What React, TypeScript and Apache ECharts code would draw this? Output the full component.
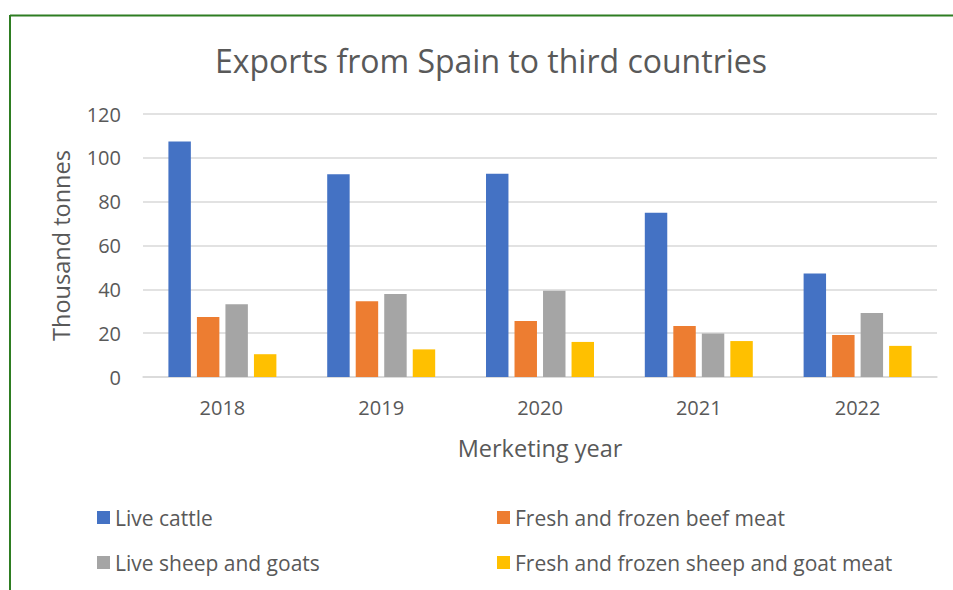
import React, { useEffect, useRef } from "react";
import * as echarts from "echarts";

const years = ["2018", "2019", "2020", "2021", "2022"];
const liveCattle = [107.4, 92.5, 92.7, 74.9, 47.2];
const beefMeat = [27.4, 34.6, 25.6, 23.3, 19.2];
const liveSheepGoats = [33.2, 37.9, 39.3, 19.8, 29.2];
const sheepGoatMeat = [10.4, 12.6, 16.0, 16.4, 14.2];
const seriesNames = [
  "Live cattle",
  "Fresh and frozen beef meat",
  "Live sheep and goats",
  "Fresh and frozen sheep and goat meat",
];
const colors = ["#4472C4", "#ED7D31", "#A5A5A5", "#FFC000"];

export default function App() {
  const ref = useRef<HTMLDivElement>(null);
  useEffect(() => {
    if (!ref.current) return;
    const chart = echarts.init(ref.current, null, { renderer: "svg" });
    const font = "'Open Sans', Lato, sans-serif";
    const textColor = "#595959";
    const data = [liveCattle, beefMeat, liveSheepGoats, sheepGoatMeat];
    const legendBase = {
      orient: "vertical",
      top: 502,
      itemWidth: 13,
      itemHeight: 13,
      itemGap: 24,
      icon: "rect",
      textStyle: { fontFamily: font, fontSize: 21, color: textColor },
    };
    chart.setOption({
      animation: false,
      textStyle: { fontFamily: font },
      title: {
        text: "Exports from Spain to third countries",
        left: 486,
        textAlign: "center",
        top: 39,
        textStyle: { fontFamily: font, fontSize: 32, fontWeight: "normal", color: textColor },
      },
      legend: [
        { ...legendBase, data: [seriesNames[0], seriesNames[2]], left: 92 },
        { ...legendBase, data: [seriesNames[1], seriesNames[3]], left: 492 },
      ],
      grid: { left: 143, right: 16, top: 114, height: 263 },
      xAxis: {
        type: "category",
        data: years,
        name: "Merketing year",
        nameLocation: "middle",
        nameGap: 59,
        nameTextStyle: { fontFamily: font, fontSize: 23.5, color: textColor },
        axisLine: { lineStyle: { color: "#d9d9d9", width: 1.5 } },
        axisTick: { show: false },
        axisLabel: { fontFamily: font, fontSize: 20, color: textColor, margin: 20 },
      },
      yAxis: {
        type: "value",
        min: 0,
        max: 120,
        interval: 20,
        name: "Thousand tonnes",
        nameLocation: "middle",
        nameRotate: 90,
        nameGap: 70,
        nameTextStyle: { fontFamily: font, fontSize: 23.5, color: textColor },
        axisLine: { show: false },
        axisTick: { show: false },
        splitLine: { lineStyle: { color: "#d9d9d9", width: 1.5 } },
        axisLabel: { fontFamily: font, fontSize: 20, color: textColor, margin: 22 },
      },
      series: seriesNames.map((name, i) => ({
        name,
        type: "bar",
        data: data[i],
        barGap: "27%",
        barCategoryGap: "32%",
        itemStyle: { color: colors[i] },
      })),
      graphic: [
        {
          type: "line",
          shape: { x1: 10, y1: 15.5, x2: 953, y2: 15.5 },
          style: { stroke: "#2E7D22", lineWidth: 2 },
        },
        {
          type: "line",
          shape: { x1: 10, y1: 15, x2: 10, y2: 590 },
          style: { stroke: "#2E7D22", lineWidth: 2 },
        },
      ],
    });
    return () => chart.dispose();
  }, []);
  return (
    <div
      ref={ref}
      style={{ position: "absolute", left: 0, top: 0, width: 953, height: 590, background: "#fff" }}
    />
  );
}
